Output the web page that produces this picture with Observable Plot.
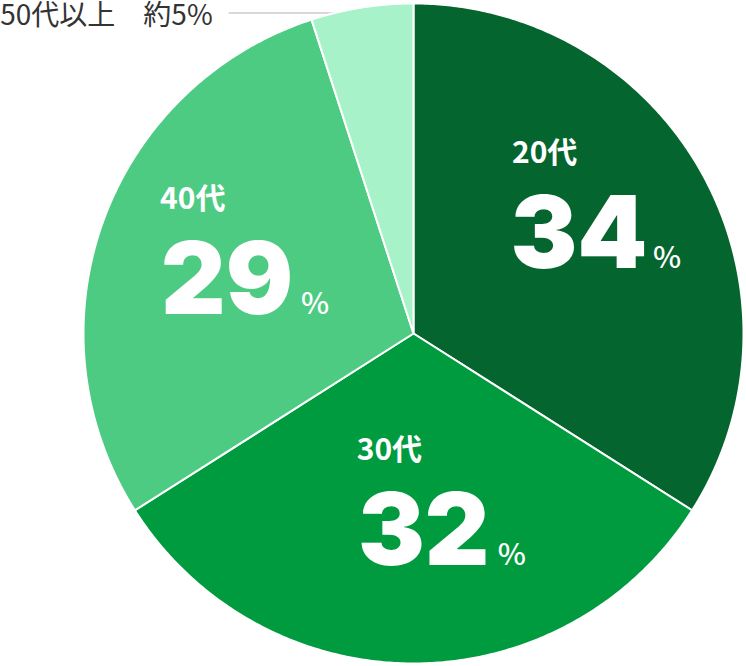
<!DOCTYPE html>
<html>
<head>
<meta charset="utf-8">
<script src="https://cdn.jsdelivr.net/npm/d3@7"></script>
<script src="https://cdn.jsdelivr.net/npm/@observablehq/plot@0.6"></script>
<style>
  html, body { margin: 0; padding: 0; background: #fff; }
  svg { display: block; }
</style>
</head>
<body>
<div id="chart"></div>
<script>
const labels = ["20代", "30代", "40代", "50代以上"];
const values = [34, 32, 29, 5];
const colors = ["#05652e", "#009a3f", "#4ecb83", "#a7f2c8"];
const minorLabel = "50代以上　約5%";

const total = d3.sum(values);
const slices = [];
let acc = 0;
labels.forEach((label, i) => {
  const a0 = acc / total * 2 * Math.PI;
  acc += values[i];
  const a1 = acc / total * 2 * Math.PI;
  slices.push({label, value: values[i], a0, a1, mid: (a0 + a1) / 2});
});

// polygon outline points for each slice
const pts = [];
for (const s of slices) {
  pts.push({label: s.label, x: 0, y: 0});
  const n = Math.max(2, Math.ceil((s.a1 - s.a0) / (Math.PI / 360)));
  for (let k = 0; k <= n; k++) {
    const a = s.a0 + (s.a1 - s.a0) * k / n;
    pts.push({label: s.label, x: Math.sin(a), y: Math.cos(a)});
  }
}

const labelShift = -3 * Math.PI / 180;
const big = slices.filter(s => s.value >= 10).map(s => ({
  label: s.label,
  value: s.value,
  x: 0.59 * Math.sin(s.mid + labelShift),
  y: 0.59 * Math.cos(s.mid + labelShift)
}));

const minor = slices.filter(s => s.value < 10).map(s => {
  const a = s.a0 + 0.23 * (s.a1 - s.a0);
  return {x1: -0.56, x2: Math.sin(a), y: Math.cos(a)};
});

const chart = Plot.plot({
  width: 746,
  height: 666,
  marginLeft: 83,
  marginRight: 3,
  marginTop: 3,
  marginBottom: 3,
  x: {domain: [-1, 1], axis: null},
  y: {domain: [-1, 1], axis: null},
  color: {domain: labels, range: colors},
  style: {overflow: "visible"},
  marks: [
    Plot.link(minor, {x1: "x1", x2: "x2", y1: "y", y2: "y", stroke: "#cccccc", strokeWidth: 1.5}),
    Plot.text(minor, {x: "x1", y: "y", text: () => minorLabel, textAnchor: "end", dx: -16, dy: 3,
      fontSize: 28, fill: "#333", fontFamily: "'Noto Sans CJK JP', 'Noto Sans', sans-serif"}),
    Plot.line(pts, {x: "x", y: "y", z: "label", fill: "label", stroke: "white", strokeWidth: 2,
      curve: "linear-closed", strokeLinejoin: "round"}),
    Plot.text(big, {x: "x", y: "y", text: d => String(d.value), textAnchor: "middle", dy: 5,
      fontSize: 100, fontWeight: 900, fill: "white", fontFamily: "Inter, Roboto, sans-serif"}),
    Plot.text(big, {x: "x", y: "y", text: () => "%", textAnchor: "start", dx: 74, dy: 27,
      fontSize: 30, fontWeight: 500, fill: "white", fontFamily: "'Noto Sans CJK JP', 'Noto Sans', sans-serif"}),
    Plot.text(big, {x: "x", y: "y", text: "label", textAnchor: "start", dx: -67, dy: -78,
      fontSize: 30, fontWeight: 700, fill: "white", fontFamily: "'Noto Sans CJK JP', 'Noto Sans', sans-serif"})
  ]
});
document.getElementById("chart").appendChild(chart);
</script>
</body>
</html>
